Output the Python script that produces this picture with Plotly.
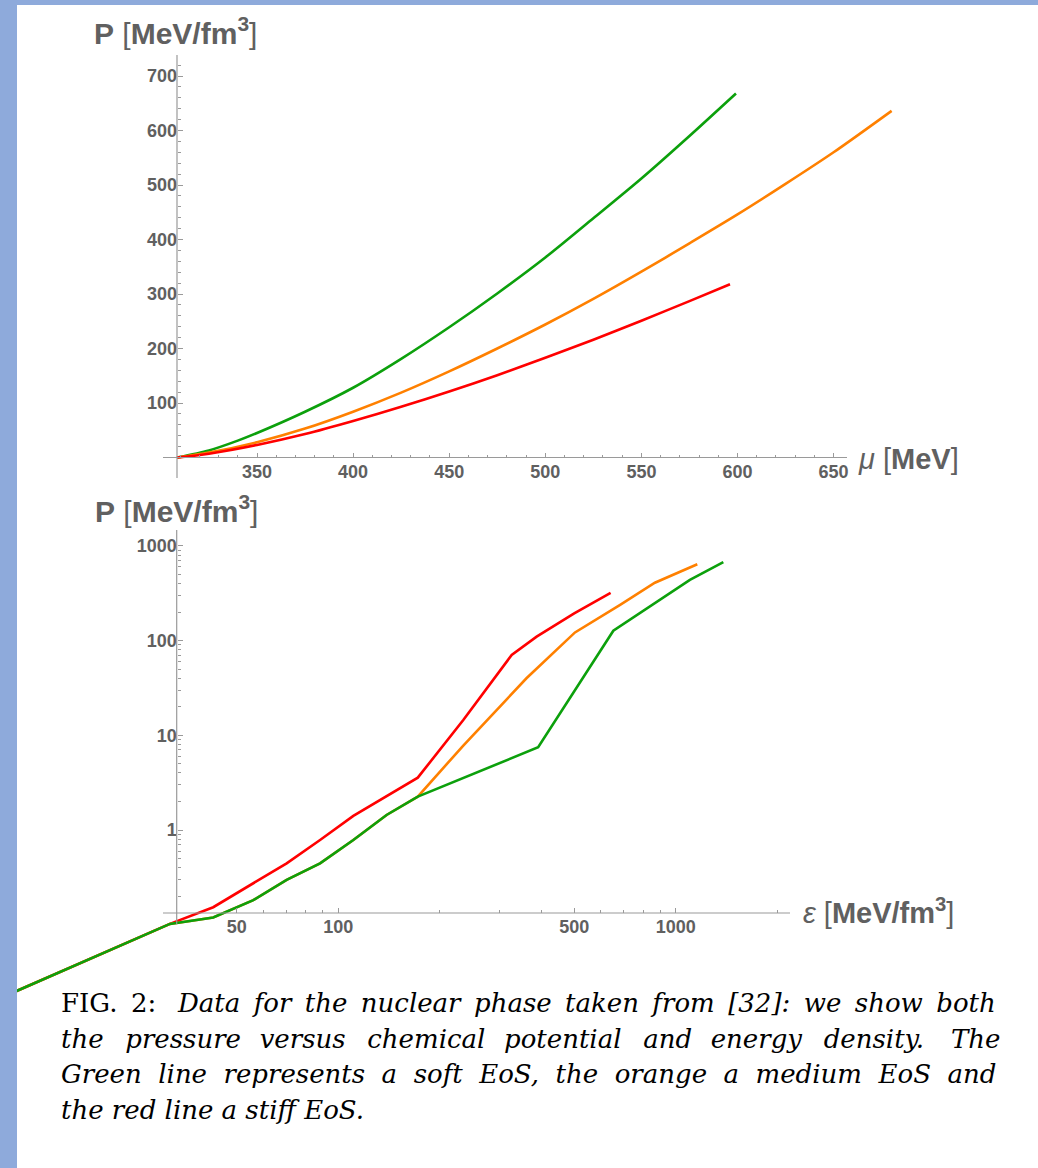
import plotly.graph_objects as go

W, H = 1038, 1168

# ---------------- data: P(mu) ----------------
mu_soft = [308.4, 325, 340, 350, 375, 400, 425, 450, 475, 500, 525, 550, 575, 599.2]
p_mu_soft = [0, 13, 31, 45, 84, 128, 181, 239, 301, 367, 439, 512, 590, 668]

mu_medium = [308.4, 325, 350, 375, 400, 425, 450, 475, 500, 525, 550, 575, 600, 625, 650, 680.2]
p_mu_medium = [0, 9, 28, 53, 84, 119, 158, 200, 244, 291, 341, 393, 446, 502, 560, 636]

mu_stiff = [308.4, 325, 350, 375, 400, 425, 450, 475, 500, 525, 550, 575, 596.1]
p_mu_stiff = [0, 7, 23, 43, 67, 93, 121, 151, 183, 216, 251, 287, 318]

# ---------------- data: P(epsilon) ----------------
eps_soft = [9.0, 20, 31.7, 42.6, 56, 70.3, 88.3, 110.8, 139, 172, 391, 653, 1101, 1383]
p_eps_soft = [0.0143, 0.050, 0.102, 0.119, 0.182, 0.297, 0.445, 0.784, 1.44, 2.25, 7.47, 127, 437, 675]

eps_medium = [9.0, 20, 31.7, 42.6, 56, 70.3, 88.3, 110.8, 139, 172, 234.6, 361, 502.7, 684, 867, 1158]
p_eps_medium = [0.0143, 0.050, 0.102, 0.119, 0.182, 0.297, 0.445, 0.784, 1.44, 2.25, 7.8, 40, 122, 238, 408, 640]

eps_stiff = [9.0, 20, 31.7, 42.6, 56, 70.3, 88.3, 110.8, 172, 234.6, 326.4, 387, 500, 641]
p_eps_stiff = [0.0143, 0.050, 0.102, 0.153, 0.274, 0.445, 0.784, 1.41, 3.57, 14.5, 70.5, 110, 194, 320]

# ---------------- ticks ----------------
mu_ticks = [350, 400, 450, 500, 550, 600, 650]
mu_minor = [v for v in range(310, 660, 10) if v % 50]
p_lin_ticks = [100, 200, 300, 400, 500, 600, 700]
p_lin_minor = [v for v in range(20, 740, 20) if v % 100]
eps_ticks = [50, 100, 500, 1000]
eps_minor = [60, 70, 80, 90, 200, 300, 400, 600, 700, 800, 900, 2000]
p_log_ticks = [1, 10, 100, 1000]
p_log_minor = [0.2, 0.3, 0.4, 0.5, 0.6, 0.7, 0.8, 0.9,
               2, 3, 4, 5, 6, 7, 8, 9, 20, 30, 40, 50, 60, 70, 80, 90,
               200, 300, 400, 500, 600, 700, 800, 900]

GREEN, ORANGE, RED = "#0ca00c", "#ff8000", "#ff0000"
AXIS_GRAY = "#9a9a9a"
LABEL_GRAY = "#606060"
LW = 2.6


def px(x):
    return x / W


def py(y):
    return 1 - y / H


# pixel calibration of the two panels
def mu_at(x):
    return 350 + (x - 257) / 1.922


def plin_at(y):
    return (457.5 - y) / 0.545


def leps_at(x):
    return 2 + (x - 338.3) / 337.5


def lp_at(y):
    return (830 - y) / 94.7


fig = go.Figure()

# upper panel: P vs mu
for xs, ys, c in [(mu_soft, p_mu_soft, GREEN), (mu_medium, p_mu_medium, ORANGE),
                  (mu_stiff, p_mu_stiff, RED)]:
    fig.add_trace(go.Scatter(x=xs, y=ys, mode="lines", xaxis="x", yaxis="y",
                             line=dict(color=c, width=LW, shape="spline", smoothing=0.8),
                             showlegend=False, hoverinfo="skip"))

# lower panel: P vs epsilon (log-log)
for xs, ys, c in [(eps_stiff, p_eps_stiff, RED), (eps_medium, p_eps_medium, ORANGE),
                  (eps_soft, p_eps_soft, GREEN)]:
    fig.add_trace(go.Scatter(x=xs, y=ys, mode="lines", xaxis="x2", yaxis="y2",
                             line=dict(color=c, width=LW),
                             showlegend=False, hoverinfo="skip"))

tickfont = dict(family="Liberation Sans, Arial, sans-serif", size=18, color=LABEL_GRAY, weight=700)


def axis_common(tv, minor_tv, **kw):
    d = dict(
        anchor="free", showline=False, showgrid=False, zeroline=False,
        ticks="inside", ticklen=5, tickwidth=1, tickcolor=AXIS_GRAY,
        tickmode="array", tickvals=tv, ticktext=["<b>%s</b>" % v for v in tv],
        minor=dict(tickmode="array", tickvals=minor_tv, ticks="inside",
                   ticklen=3, tickwidth=1, tickcolor=AXIS_GRAY, showgrid=False),
        tickfont=tickfont, fixedrange=True,
    )
    d.update(kw)
    return d


fig.update_layout(
    width=W, height=H,
    margin=dict(l=0, r=0, t=0, b=0),
    paper_bgcolor="white", plot_bgcolor="rgba(0,0,0,0)",
    xaxis=axis_common(mu_ticks, mu_minor,
                      domain=[px(100), px(1010)], range=[mu_at(100), mu_at(1010)],
                      position=py(457.5), ticklabelstandoff=1),
    yaxis=axis_common(p_lin_ticks, p_lin_minor,
                      domain=[py(500), py(40)], range=[plin_at(500), plin_at(40)],
                      position=px(177)),
    xaxis2=axis_common(eps_ticks, eps_minor, type="log",
                       domain=[0, px(1030)], range=[leps_at(0), leps_at(1030)],
                       position=py(913), ticklabelstandoff=1),
    yaxis2=axis_common(p_log_ticks, p_log_minor, type="log",
                       domain=[py(1000), py(515)], range=[lp_at(1000), lp_at(515)],
                       position=px(176.7)),
)

# axis lines crossing at the origin with a small overhang
line_style = dict(color=AXIS_GRAY, width=1.2)
shapes = [
    dict(type="line", xref="paper", yref="paper", x0=px(163), x1=px(847), y0=py(457.5), y1=py(457.5), line=line_style),
    dict(type="line", xref="paper", yref="paper", x0=px(177), x1=px(177), y0=py(478), y1=py(55), line=line_style),
    dict(type="line", xref="paper", yref="paper", x0=px(163), x1=px(790), y0=py(913), y1=py(913), line=line_style),
    dict(type="line", xref="paper", yref="paper", x0=px(176.7), x1=px(176.7), y0=py(924), y1=py(530), line=line_style),
    # page frame
    dict(type="rect", xref="paper", yref="paper", x0=0, x1=px(17), y0=0, y1=1,
         fillcolor="#8eaadb", line=dict(width=0), layer="above"),
    dict(type="rect", xref="paper", yref="paper", x0=0, x1=1, y0=py(5), y1=1,
         fillcolor="#8eaadb", line=dict(width=0), layer="above"),
]
fig.update_layout(shapes=shapes)

lab_font = dict(family="Liberation Sans, Arial, sans-serif", size=30, color=LABEL_GRAY)
p_title = "<b>P</b> [<b>MeV/fm</b><sup><b>3</b></sup>]"
annotations = [
    dict(text=p_title, x=px(92), y=py(31), xanchor="left", yanchor="middle"),
    dict(text=p_title, x=px(93), y=py(509), xanchor="left", yanchor="middle"),
    dict(text="<i>μ</i> [<b>MeV</b>]", x=px(856), y=py(459), xanchor="left", yanchor="middle",
         font=dict(family="Liberation Sans, Arial, sans-serif", size=29, color=LABEL_GRAY)),
    dict(text="<i>ε</i> [<b>MeV/fm</b><sup><b>3</b></sup>]", x=px(801), y=py(911), xanchor="left", yanchor="middle",
         font=dict(family="Liberation Sans, Arial, sans-serif", size=29, color=LABEL_GRAY)),
]
for a in annotations:
    a.setdefault("font", lab_font)
    a.update(xref="paper", yref="paper", showarrow=False)

# justified caption: word gaps widened with no-break / thin spaces
NB, TH = "\u00a0", "\u2009"
g1 = " " + TH
cap_line1 = g1.join(["FIG.", "2:" + NB, "<i>Data", "for", "the", "nuclear", "phase", "taken",
                     "from", "[32]:", "we", "show", "both</i>"])
words2 = ["<i>the", "pressure", "versus", "chemical", "potential", "and", "energy", "density." + NB, "The</i>"]
gaps2 = [NB + TH, TH + TH, NB + TH, TH + TH, NB + TH, TH + TH, NB + TH, TH + TH]
cap_line2 = words2[0] + "".join(" " + g + w for g, w in zip(gaps2, words2[1:]))
cap_line3 = (" " + NB).join(["<i>Green", "line", "represents", "a", "soft", "EoS,", "the", "orange",
                             "a", "medium", "EoS", "and</i>"])
cap_line4 = "<i>the red line a stiff EoS.</i>"

cap_font = dict(family="DejaVu Serif, serif", size=26, color="black")
for i, line in enumerate([cap_line1, cap_line2, cap_line3, cap_line4]):
    annotations.append(dict(text=line, x=px(59), y=py(1003 + 35.5 * i), xanchor="left", yanchor="middle",
                            xref="paper", yref="paper", showarrow=False, font=cap_font))

fig.update_layout(annotations=annotations)

fig.write_html("out.html", config={"displayModeBar": False})
